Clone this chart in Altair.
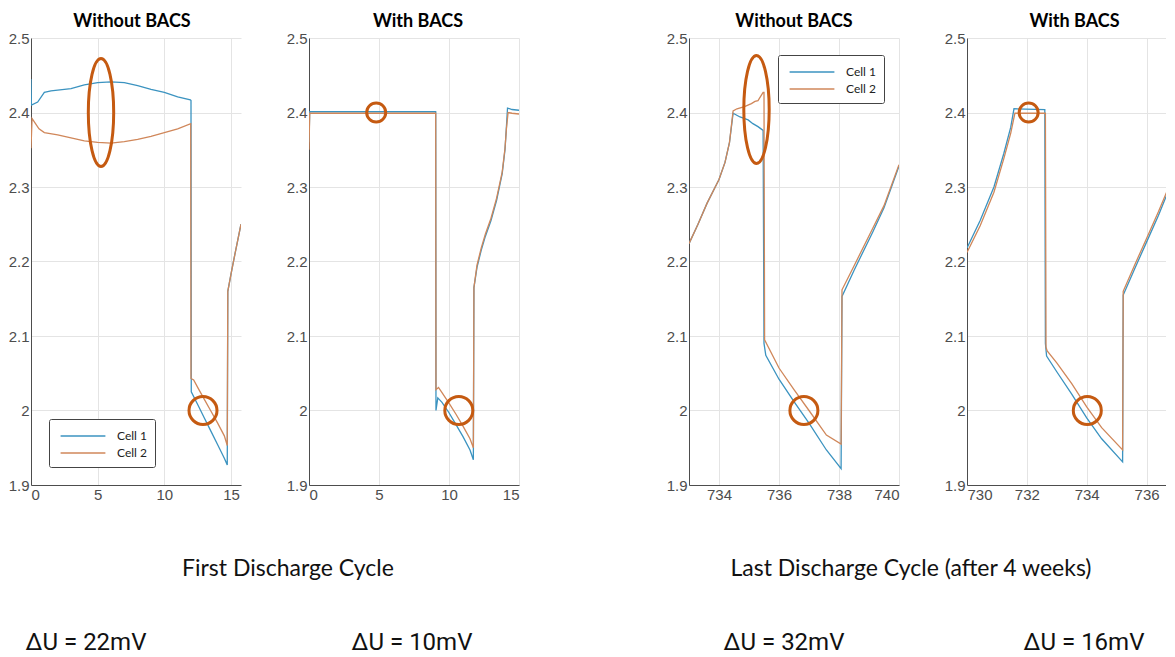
import altair as alt
import pandas as pd

# ---------------- data ----------------
CELLS = ["Cell 1", "Cell 2"]
Y_TICKS = [1.9, 2.0, 2.1, 2.2, 2.3, 2.4, 2.5]

# Panel 1: first discharge cycle, without BACS
p1_t1 = [0, 0.03, 0.5, 1.0, 1.5, 2, 3, 4, 5, 6, 7, 8, 9, 10, 11, 11.95, 12.0, 12.02,
         12.5, 13, 13.5, 14, 14.5, 14.72, 14.76, 15.0, 15.25, 15.5, 15.75]
p1_v1 = [2.445, 2.41, 2.414, 2.427, 2.429, 2.43, 2.432, 2.437, 2.44, 2.441, 2.44, 2.436,
         2.431, 2.427, 2.421, 2.417, 2.416, 2.025, 2.008, 1.99, 1.972, 1.954, 1.936, 1.927,
         2.16, 2.183, 2.206, 2.228, 2.25]
p1_t2 = [0, 0.08, 0.3, 0.6, 1.0, 2, 3, 4, 5, 6, 7, 8, 9, 10, 11, 11.98, 12.0, 12.2, 12.5,
         13, 13.5, 14, 14.5, 14.72, 14.76, 15.0, 15.25, 15.5, 15.75]
p1_v2 = [2.352, 2.392, 2.386, 2.378, 2.373, 2.37, 2.366, 2.362, 2.36, 2.359, 2.361, 2.364,
         2.368, 2.373, 2.378, 2.385, 2.043, 2.041, 2.031, 2.015, 1.999, 1.983, 1.966, 1.953,
         2.16, 2.183, 2.206, 2.228, 2.25]

# Panel 2: first discharge cycle, with BACS
p2_t1 = [0, 0.05, 9.05, 9.07, 9.2, 9.5, 10, 10.5, 11, 11.5, 11.74, 11.78, 12.0, 12.3, 12.6,
         13.0, 13.4, 13.8, 14.0, 14.1, 14.18, 14.5, 15]
p2_v1 = [2.36, 2.401, 2.401, 2.0, 2.017, 2.011, 1.997, 1.981, 1.965, 1.947, 1.934, 2.165,
         2.192, 2.215, 2.234, 2.255, 2.282, 2.318, 2.35, 2.38, 2.406, 2.404, 2.403]
p2_t2 = [0, 0.05, 9.05, 9.07, 9.25, 9.5, 10, 10.5, 11, 11.5, 11.74, 11.78, 12.0, 12.3, 12.6,
         13.0, 13.4, 13.8, 14.0, 14.1, 14.22, 14.5, 15]
p2_v2 = [2.35, 2.399, 2.399, 2.028, 2.031, 2.024, 2.01, 1.995, 1.979, 1.962, 1.95, 2.165,
         2.195, 2.218, 2.237, 2.258, 2.285, 2.32, 2.352, 2.378, 2.4, 2.399, 2.398]

# Panel 3: last discharge cycle, without BACS
p3_t1 = [733, 733.3, 733.6, 734.0, 734.2, 734.35, 734.47, 734.7, 734.97, 735.13, 735.3,
         735.47, 735.5, 735.56, 736.0, 736.5, 737.0, 737.58, 738.07, 738.1, 738.5, 739.13,
         739.5, 740]
p3_v1 = [2.224, 2.25, 2.278, 2.31, 2.333, 2.36, 2.399, 2.394, 2.39, 2.385, 2.381, 2.376,
         2.09, 2.074, 2.042, 2.012, 1.983, 1.947, 1.922, 2.153, 2.188, 2.24, 2.272, 2.328]
p3_t2 = [733, 733.3, 733.6, 734.0, 734.2, 734.35, 734.47, 734.6, 734.85, 735.08, 735.2,
         735.3, 735.47, 735.5, 735.52, 736.0, 736.5, 737.0, 737.58, 738.07, 738.1, 738.5,
         739.13, 739.5, 740]
p3_v2 = [2.224, 2.25, 2.278, 2.31, 2.333, 2.36, 2.402, 2.405, 2.408, 2.412, 2.415, 2.416,
         2.427, 2.427, 2.095, 2.057, 2.028, 2.0, 1.967, 1.955, 2.162, 2.194, 2.245, 2.275, 2.33]

# Panel 4: last discharge cycle, with BACS
p4_t1 = [730, 730.44, 730.9, 731.23, 731.46, 731.57, 732.6, 732.62, 732.66, 733.0, 733.5,
         734.0, 734.5, 735.2, 735.22, 735.6, 736.0, 736.4, 736.7, 737.0]
p4_v1 = [2.218, 2.255, 2.3, 2.345, 2.38, 2.405, 2.404, 2.09, 2.073, 2.052, 2.022, 1.99,
         1.962, 1.931, 2.155, 2.19, 2.226, 2.262, 2.292, 2.326]
p4_t2 = [730, 730.44, 730.9, 731.23, 731.46, 731.6, 732.62, 732.64, 732.68, 733.0, 733.5,
         734.0, 734.5, 735.2, 735.22, 735.6, 736.0, 736.4, 736.7, 737.0]
p4_v2 = [2.212, 2.248, 2.293, 2.338, 2.372, 2.399, 2.399, 2.085, 2.08, 2.064, 2.036, 2.005,
         1.977, 1.947, 2.16, 2.195, 2.231, 2.267, 2.296, 2.33]

# highlight marks (centre time, centre voltage, kind)
p1_ann_t = [5.25, 12.9]
p1_ann_v = [2.4, 2.0]
p1_ann_k = ["ellipse", "circle"]
p2_ann_t = [4.8, 10.7]
p2_ann_v = [2.4, 2.0]
p2_ann_k = ["small", "circle"]
p3_ann_t = [735.25, 736.83]
p3_ann_v = [2.404, 2.0]
p3_ann_k = ["ellipse", "circle"]
p4_ann_t = [732.06, 734.02]
p4_ann_v = [2.4, 2.0]
p4_ann_k = ["small", "circle"]

panel_titles = ["Without BACS", "With BACS", "Without BACS", "With BACS"]
cycle_titles = ["First Discharge Cycle", "Last Discharge Cycle (after 4 weeks)"]
delta_labels = ["\u0394U = 22mV", "\u0394U = 10mV", "\u0394U = 32mV", "\u0394U = 16mV"]

# ---------------- styling ----------------
C1 = "#3b93c0"
C2 = "#d0875a"
ORANGE = "#C55A11"
H = 447
SHAPES = {
    "ellipse": ("M0,-1A0.235,1 0 1,1 0,1A0.235,1 0 1,1 0,-1Z", 108 ** 2),
    "circle": ("circle", 28 ** 2),
    "small": ("circle", 19 ** 2),
}


def make_legend(lx, ly):
    return alt.Legend(orient="none", legendX=lx, legendY=ly, title=None,
                      symbolType="M-2.8,0L2.8,0", symbolSize=256, symbolStrokeWidth=1.6,
                      symbolOffset=17, labelOffset=25,
                      labelFont="Lato", labelFontSize=12, labelColor="#222",
                      strokeColor="#444", fillColor="white", padding=8,
                      rowPadding=2, cornerRadius=2)


def panel(t1, v1, t2, v2, at, av, ak, xdom, xticks, width, title, tdx, legend, texts):
    df = pd.DataFrame({
        "t": t1 + t2,
        "v": v1 + v2,
        "cell": [CELLS[0]] * len(t1) + [CELLS[1]] * len(t2),
        "i": list(range(len(t1))) + list(range(len(t2))),
    })
    xenc = alt.X("t:Q", scale=alt.Scale(domain=xdom, nice=False, zero=False),
                 axis=alt.Axis(values=xticks, title=None, format="d"))
    yenc = alt.Y("v:Q", scale=alt.Scale(domain=[1.9, 2.5], nice=False, zero=False),
                 axis=alt.Axis(values=Y_TICKS, title=None, format="~g"))
    layers = [
        alt.Chart(df).mark_line(strokeWidth=1.3, clip=True).encode(
            x=xenc, y=yenc,
            color=alt.Color("cell:N", scale=alt.Scale(domain=CELLS, range=[C1, C2]),
                            legend=legend),
            order="i:Q",
        )
    ]
    adf = pd.DataFrame({"t": at, "v": av, "k": ak})
    for kind in dict.fromkeys(ak):
        shape, size = SHAPES[kind]
        layers.append(
            alt.Chart(adf[adf["k"] == kind]).mark_point(
                shape=shape, size=size, filled=False, color=ORANGE,
                strokeWidth=3, opacity=1
            ).encode(x=xenc, y=yenc)
        )
    for label, px, py, font, fsize in texts:
        layers.append(
            alt.Chart(pd.DataFrame({"label": [label]})).mark_text(
                font=font, fontSize=fsize, color="#111", align="center", baseline="middle"
            ).encode(x=alt.value(px), y=alt.value(py), text="label:N")
        )
    return alt.layer(*layers).properties(
        width=width, height=H,
        title=alt.TitleParams(panel_titles[title], font="Lato", fontSize=18,
                              fontWeight="bold", color="#000", offset=0, dx=tdx,
                              anchor="middle"),
    )


CYC_FONT = "Lato"
DU_FONT = "Roboto"
DU_SIZE = 24

p1 = panel(p1_t1, p1_v1, p1_t2, p1_v2, p1_ann_t, p1_ann_v, p1_ann_k,
           [0, 15.75], [0, 5, 10, 15], 210, 0, -4, make_legend(18, 381),
           [(cycle_titles[0], 257, 531, CYC_FONT, 23),
            (delta_labels[0], 55, 605, DU_FONT, DU_SIZE)])
p2 = panel(p2_t1, p2_v1, p2_t2, p2_v2, p2_ann_t, p2_ann_v, p2_ann_k,
           [0, 15], [0, 5, 10, 15], 210, 1, 4, None,
           [(delta_labels[1], 103, 605, DU_FONT, DU_SIZE)])
p3 = panel(p3_t1, p3_v1, p3_t2, p3_v2, p3_ann_t, p3_ann_v, p3_ann_k,
           [733, 740], [734, 736, 738, 740], 210, 2, 0, make_legend(89, 17),
           [(cycle_titles[1], 222, 531, CYC_FONT, 23),
            (delta_labels[2], 95, 605, DU_FONT, DU_SIZE)])
p4 = panel(p4_t1, p4_v1, p4_t2, p4_v2, p4_ann_t, p4_ann_v, p4_ann_k,
           [730, 736.65], [730, 732, 734, 736], 199, 3, 8, None,
           [(delta_labels[3], 117, 605, DU_FONT, DU_SIZE)])

spacer = alt.Chart(pd.DataFrame({"s": [0]})).mark_point(opacity=0).encode(
    x=alt.X("s:Q", axis=None), y=alt.Y("s:Q", axis=None)
).properties(width=34, height=H)

chart = alt.hconcat(p1, p2, spacer, p3, p4, spacing=68, bounds="flush").resolve_legend(
    color="independent"
).properties(
    padding={"left": 0, "top": 5, "right": 0, "bottom": 0},
    background="white",
).configure_view(stroke=None).configure_axis(
    labelFont="Liberation Sans", labelFontSize=15, labelColor="#4d4d4d",
    domainColor="#4d4d4d", domainWidth=1, gridColor="#e4e4e4", gridWidth=1,
    ticks=False, labelPadding=2,
)

chart.save("out.html", embed_options={"renderer": "svg", "actions": False})
